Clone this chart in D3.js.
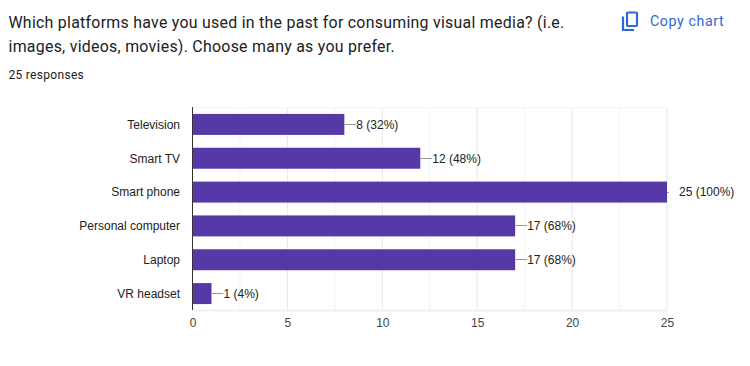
<!DOCTYPE html>
<html><head><meta charset="utf-8">
<script src="https://cdnjs.cloudflare.com/ajax/libs/d3/7.8.5/d3.min.js"></script>
<style>html,body{margin:0;padding:0;background:#fff}svg{display:block}</style>
</head><body><svg id="c" width="750" height="366"></svg>
<script>
const categories = ["Television","Smart TV","Smart phone","Personal computer","Laptop","VR headset"];
const counts = [8,12,25,17,17,1];
const valueLabels = ["8 (32%)","12 (48%)","25 (100%)","17 (68%)","17 (68%)","1 (4%)"];
const majorTicks = [0,5,10,15,20,25];
const minorTicks = [2.5,7.5,12.5,17.5,22.5];
const titleLines = ["Which platforms have you used in the past for consuming visual media? (i.e.","images, videos, movies). Choose many as you prefer."];
const responsesText = "25 responses";
const copyText = "Copy chart";

const svg = d3.select("#c");
const x = d3.scaleLinear().domain([0,25]).range([192.5,667]);
const y = d3.scaleBand().domain(categories).range([107.5,310.5]).paddingInner(0.38).paddingOuter(0.19);
const sans = "Arial, 'Liberation Sans', sans-serif";

svg.selectAll("text.title").data(titleLines).join("text").attr("class","title")
  .attr("x",8.5).attr("y",(d,i)=>28+i*24).attr("font-family","Roboto").attr("font-size",15.9)
  .attr("letter-spacing",0.27).attr("fill","#202124").text(d=>d);
svg.append("text").attr("x",8.5).attr("y",79).attr("font-family","Roboto").attr("font-size",12)
  .attr("letter-spacing",0.3).attr("fill","#202124").text(responsesText);

// copy icon
const ic = svg.append("g").attr("fill","none").attr("stroke","#2f66dc").attr("stroke-width",2.2);
ic.append("rect").attr("x",627).attr("y",12.5).attr("width",10).attr("height",13.5).attr("rx",1);
ic.append("path").attr("d","M623 16.5V30H634");
svg.append("text").attr("x",650).attr("y",26).attr("font-family","Roboto").attr("font-size",14.2)
  .attr("letter-spacing",0.6).attr("fill","#2f66dc").text(copyText);

// grid
svg.selectAll("line.minor").data(minorTicks).join("line").attr("class","minor")
  .attr("x1",d=>x(d)).attr("x2",d=>x(d)).attr("y1",107).attr("y2",310).attr("stroke","#f3f3f3");
svg.selectAll("line.major").data(majorTicks.slice(1)).join("line").attr("class","major")
  .attr("x1",d=>x(d)).attr("x2",d=>x(d)).attr("y1",107).attr("y2",310).attr("stroke","#e8e8e8");
svg.append("line").attr("x1",192).attr("x2",668).attr("y1",107.5).attr("y2",107.5).attr("stroke","#f5f5f5");
svg.append("line").attr("x1",192).attr("x2",668).attr("y1",310.5).attr("y2",310.5).attr("stroke","#f0f0f0").attr("stroke-width",2);

// bars
svg.selectAll("rect.bar").data(categories).join("rect").attr("class","bar")
  .attr("x",x(0)).attr("y",d=>y(d)).attr("height",y.bandwidth())
  .attr("width",(d,i)=>x(counts[i])-x(0)).attr("fill","#5639a6");

// leader lines and labels
const leaderEnd = (i)=> counts[i]===25 ? x(25)+2 : x(counts[i])+12;
const midY = d=>Math.floor(y(d)+y.bandwidth()/2)+0.5;
svg.selectAll("line.lead").data(categories).join("line").attr("class","lead")
  .attr("x1",(d,i)=>x(counts[i])).attr("x2",(d,i)=>leaderEnd(i))
  .attr("y1",midY).attr("y2",midY).attr("stroke","#999");
svg.selectAll("text.val").data(categories).join("text").attr("class","val")
  .attr("x",(d,i)=>counts[i]===25 ? x(25)+12 : x(counts[i])+12)
  .attr("y",d=>y(d)+y.bandwidth()/2+4.3).attr("font-family",sans).attr("font-size",12)
  .attr("fill","#222").text((d,i)=>valueLabels[i]);

// axes
const ax = svg.append("g").attr("transform","translate(0,310)")
  .call(d3.axisBottom(x).tickValues(majorTicks).tickSize(0).tickPadding(8));
ax.select(".domain").remove();
ax.selectAll("text").attr("font-family",sans).attr("font-size",12).attr("fill","#444");
const ay = svg.append("g").attr("transform","translate(192.5,0)")
  .call(d3.axisLeft(y).tickSize(0).tickPadding(12.5));
ay.select(".domain").attr("stroke","#333").attr("d","M0,107V310");
ay.selectAll("text").attr("font-family",sans).attr("font-size",12).attr("fill","#222").attr("dy","0.36em");
</script></body></html>
